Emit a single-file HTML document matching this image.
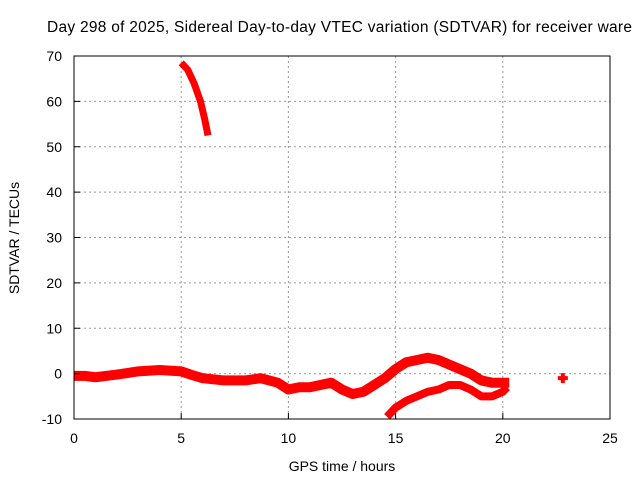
<!DOCTYPE html>
<html><head><meta charset="utf-8"><style>
body{margin:0;background:#fff;overflow:hidden;}
svg{display:block;font-family:"Liberation Sans",sans-serif;}
</style></head><body>
<svg id="chart" width="640" height="480">
<rect x="0" y="0" width="640" height="480" fill="#fff"/>
<text x="47" y="32" font-size="15.5" text-anchor="start" textLength="585" lengthAdjust="spacing">Day 298 of 2025, Sidereal Day-to-day VTEC variation (SDTVAR) for receiver ware</text>
<g id="grid"></g>
<g id="series"></g>
<rect x="74" y="56" width="536" height="363" fill="none" stroke="#000" stroke-width="1"/>
<g id="ticks"></g>
<text x="342" y="471" font-size="14" text-anchor="middle">GPS time / hours</text>
<text transform="translate(19,238) rotate(-90)" font-size="14" text-anchor="middle">SDTVAR / TECUs</text>
</svg>
<script>
const xTicks=[0,5,10,15,20,25];
const yTicks=[-10,0,10,20,30,40,50,60,70];
const mainHours=[0,0.5,1,2,3,4,5,5.5,6,7,8,8.7,9.5,10,10.5,11,12,12.5,13,13.5,14,14.5,15,15.5,16,16.5,17,17.5,18,18.5,19,19.5,20,20.3];
const mainVals=[-0.5,-0.5,-0.8,-0.2,0.5,0.8,0.5,-0.3,-1,-1.5,-1.5,-1,-2,-3.5,-3,-3,-2,-3.5,-4.5,-4,-2.5,-1,1,2.5,3,3.5,3,2,1,0,-1.5,-2,-2,-2];
const lowHours=[14.6,15,15.5,16,16.5,17,17.5,18,18.5,19,19.5,20,20.2];
const lowVals=[-9.5,-7.5,-6,-5,-4,-3.5,-2.5,-2.5,-3.5,-5,-5,-4,-3];
const topHours=[5,5.3,5.6,5.9,6.1,6.25];
const topVals=[68.5,67,64,60,56,52.5];
const isoHours=[22.8];
const isoVals=[-1];
const X=h=>74+h*536/25;
const Y=v=>419-(v+10)*363/80;
const NS='http://www.w3.org/2000/svg';
const grid=document.getElementById('grid'),ticks=document.getElementById('ticks'),ser=document.getElementById('series');
function mk(tag,attrs,parent){const e=document.createElementNS(NS,tag);for(const k in attrs)e.setAttribute(k,attrs[k]);parent.appendChild(e);return e;}
xTicks.forEach(t=>{
  if(t>0&&t<25){const g=mk('line',{x1:X(t),x2:X(t),y1:56,y2:419,stroke:'#999','stroke-dasharray':'2,3'},grid);
  
  }
  const tk=mk('line',{x1:X(t),x2:X(t),y1:419,y2:413,stroke:'#000'},ticks);
  
  
  const tx=mk('text',{x:X(t),y:443,'font-size':14,'text-anchor':'middle'},ticks);tx.textContent=t;
  
  
});
yTicks.forEach(t=>{
  if(t>-10&&t<70){const g=mk('line',{x1:74,x2:610,y1:Y(t),y2:Y(t),stroke:'#999','stroke-dasharray':'2,3'},grid);
  
  }
  const tk=mk('line',{x1:74,x2:80,y1:Y(t),y2:Y(t),stroke:'#000'},ticks);
  
  
  const tx=mk('text',{x:62,y:Y(t)+5,'font-size':14,'text-anchor':'end'},ticks);tx.textContent=t;
  
  
});
function line(hs,vs,w,name){
  const p=mk('polyline',{points:hs.map((h,i)=>X(h)+','+Y(vs[i])).join(' '),fill:'none',stroke:'#f00','stroke-width':w,'stroke-linejoin':'round','stroke-linecap':'butt'},ser);
  
  
}
line(mainHours,mainVals,10,'main-series');
line(lowHours,lowVals,8,'lower-branch-series');
line(topHours,topVals,7,'high-series');
isoHours.forEach((h,i)=>{
  const p=mk('path',{d:`M${X(h)-5},${Y(isoVals[i])}h10M${X(h)},${Y(isoVals[i])-5}v10`,stroke:'#f00','stroke-width':4},ser);
  
  
});
</script>
</body></html>
